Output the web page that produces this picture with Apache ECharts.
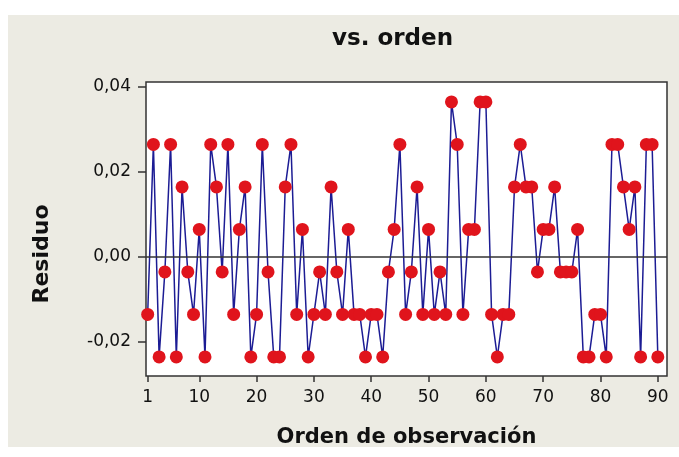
<!DOCTYPE html>
<html>
<head>
<meta charset="utf-8">
<script src="https://cdn.jsdelivr.net/npm/echarts@6/dist/echarts.min.js"></script>
<style>
  html, body { margin: 0; padding: 0; background: #fff; }
  #chart { width: 679px; height: 457px; }
</style>
</head>
<body>
<div id="chart"></div>
<script>
// residuos, orden 1..90
var residuo = [
  -0.0136, 0.0264, -0.0236, -0.0036, 0.0264, -0.0236, 0.0164, -0.0036, -0.0136, 0.0064,
  -0.0236, 0.0264, 0.0164, -0.0036, 0.0264, -0.0136, 0.0064, 0.0164, -0.0236, -0.0136,
  0.0264, -0.0036, -0.0236, -0.0236, 0.0164, 0.0264, -0.0136, 0.0064, -0.0236, -0.0136,
  -0.0036, -0.0136, 0.0164, -0.0036, -0.0136, 0.0064, -0.0136, -0.0136, -0.0236, -0.0136,
  -0.0136, -0.0236, -0.0036, 0.0064, 0.0264, -0.0136, -0.0036, 0.0164, -0.0136, 0.0064,
  -0.0136, -0.0036, -0.0136, 0.0364, 0.0264, -0.0136, 0.0064, 0.0064, 0.0364, 0.0364,
  -0.0136, -0.0236, -0.0136, -0.0136, 0.0164, 0.0264, 0.0164, 0.0164, -0.0036, 0.0064,
  0.0064, 0.0164, -0.0036, -0.0036, -0.0036, 0.0064, -0.0236, -0.0236, -0.0136, -0.0136,
  -0.0236, 0.0264, 0.0264, 0.0164, 0.0064, 0.0164, -0.0236, 0.0264, 0.0264, -0.0236
];
var xTicks = [1, 10, 20, 30, 40, 50, 60, 70, 80, 90];
var yTicks = [-0.02, 0, 0.02, 0.04];

var puntos = residuo.map(function (v, i) { return [i + 1, v]; });

var myChart = echarts.init(document.getElementById('chart'));
var option = {
    animation: false,
    backgroundColor: '#fff',
    graphic: [
        {
            type: 'rect', z: -10,
            shape: { x: 8, y: 15, width: 671, height: 432 },
            style: { fill: '#ecebe3' }
        },
        {
            type: 'text',
            left: 402 - 70, top: 28,
            style: {
                text: 'vs. orden',
                font: 'bold 23px "DejaVu Sans"',
                fill: '#111',
                width: 140, align: 'center'
            }
        },
        {
            // titulo del eje y, centrado como en el original
            type: 'text',
            x: 42, y: 254,
            rotation: Math.PI / 2,
            style: {
                text: 'Residuo',
                font: 'bold 22px "DejaVu Sans"',
                fill: '#111',
                align: 'center',
                verticalAlign: 'middle'
            }
        }
    ],
    grid: {
        left: 146, top: 82, width: 521, height: 294,
        show: true,
        backgroundColor: '#fff',
        borderColor: '#333',
        borderWidth: 1.5
    },
    xAxis: {
        type: 'value',
        min: 0.71, max: 91.6,
        name: 'Orden de observación',
        nameLocation: 'middle',
        nameGap: 51,
        nameTextStyle: { fontFamily: 'DejaVu Sans', fontWeight: 'bold', fontSize: 21, color: '#111' },
        axisLine: { show: false, onZero: false },
        splitLine: { show: false },
        axisTick: { show: true, length: 6, customValues: xTicks, lineStyle: { color: '#333', width: 1.5 } },
        axisLabel: { customValues: xTicks, margin: 13, fontFamily: 'DejaVu Sans', fontSize: 17, color: '#111' }
    },
    yAxis: {
        type: 'value',
        min: -0.0281, max: 0.0411,
        axisLine: { show: false, onZero: false },
        splitLine: { show: false },
        axisTick: { show: true, length: 8, customValues: yTicks, lineStyle: { color: '#333', width: 1.5 } },
        axisLabel: {
            customValues: yTicks, margin: 15,
            fontFamily: 'DejaVu Sans', fontSize: 17, color: '#111',
            formatter: function (v) { return v.toFixed(2).replace('.', ','); }
        }
    },
    series: [
        {
            type: 'line',
            data: puntos,
            showAllSymbol: true,
            symbol: 'circle',
            symbolSize: 13,
            lineStyle: { color: '#1c1c94', width: 1.5 },
            itemStyle: { color: '#e0141c' },
            markLine: {
                silent: true,
                symbol: 'none',
                label: { show: false },
                lineStyle: { color: '#333', width: 1.5, type: 'solid' },
                data: [{ yAxis: 0 }]
            }
        }
    ]
};
myChart.setOption(option);
</script>
</body>
</html>
